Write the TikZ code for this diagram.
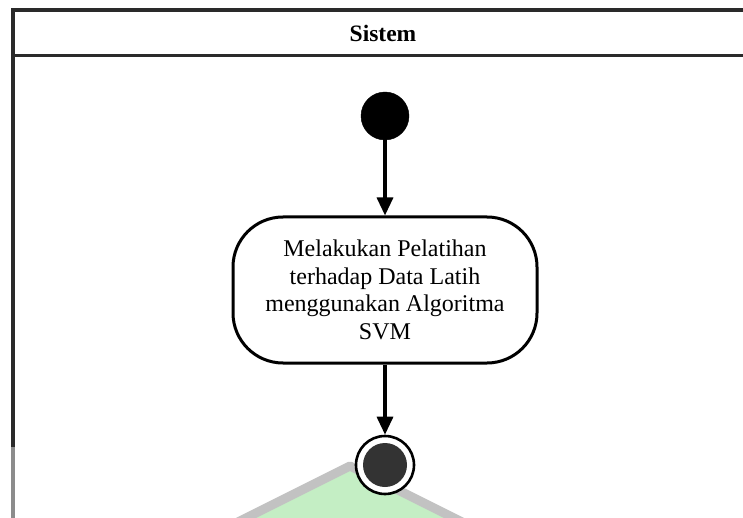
\documentclass[tikz,border=0pt]{standalone}
\usepackage{fontspec}
\setmainfont{Liberation Serif}
\usetikzlibrary{arrows.meta}
\definecolor{lanedark}{HTML}{2A2A2A}
\definecolor{lanegray}{HTML}{8C8C8C}
\definecolor{decfill}{HTML}{C4EEC4}
\definecolor{decedge}{HTML}{C2C2C2}
\definecolor{finalfill}{HTML}{333333}
\tikzset{
  lane/.style={draw=lanedark, line width=3.5pt},
  startnode/.style={circle, fill=black, draw=black, minimum size=48pt, inner sep=0pt},
  actbox/.style={draw=black, line width=3pt, rounded corners=50pt, fill=white,
    minimum width=304pt, minimum height=146pt, align=center, inner sep=0pt,
    font=\fontsize{24}{27.5}\selectfont},
  endring/.style={circle, draw=black, line width=2.6pt, fill=white, minimum size=58pt, inner sep=0pt},
  flow/.style={draw=black, line width=3.3pt, -{Triangle[length=18pt,width=16pt]}},
  header/.style={font=\fontsize{23.5}{28}\selectfont\bfseries}
}
\begin{document}
\begin{tikzpicture}[x=1pt, y=-1pt]
  \useasboundingbox (0,0) rectangle (743,518);
  \fill[white] (0,0) rectangle (743,518);

  % decision diamond partly below the frame
  \begin{scope}
    \clip (0,0) rectangle (743,518);
    \draw[fill=decfill, draw=decedge, line width=9pt, line join=round]
      (350,466) -- (470,526) -- (350,586) -- (230,526) -- cycle;
  \end{scope}

  % swimlane frame
  \draw[lane] (760,10) -- (13,10) -- (13,447);
  \draw[draw=lanegray, line width=3.5pt] (13,447) -- (13,520);
  \draw[lane] (13,55.5) -- (760,55.5);
  \node[header] (lanetitle) at (383,33) {Sistem};

  % activity flow
  \node[startnode] (start) at (385,116) {};
  \node[actbox] (train) at (385,290)
    {Melakukan Pelatihan\\terhadap Data Latih\\menggunakan Algoritma\\SVM};
  \node[endring] (final) at (385,465) {};
  \fill[finalfill] (final.center) circle (22);

  \draw[flow] (start) -- (train);
  \draw[flow] (train) -- (final);
\end{tikzpicture}
\end{document}
